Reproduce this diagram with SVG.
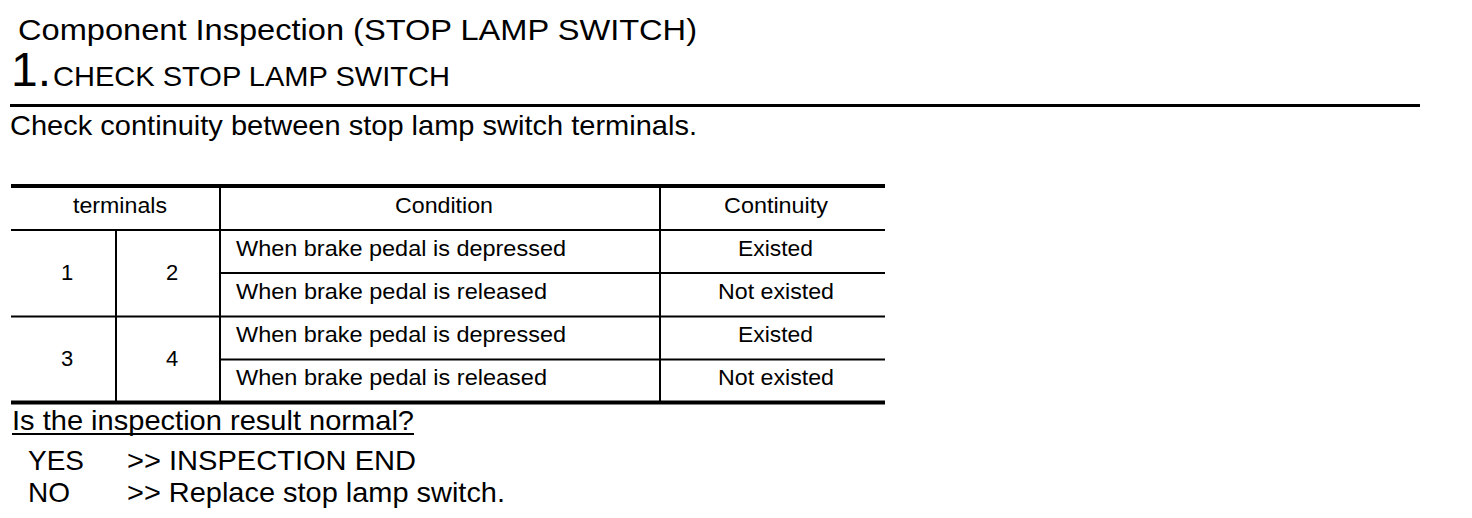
<svg xmlns="http://www.w3.org/2000/svg" width="1472" height="518" viewBox="0 0 1472 518">
<style>
text{font-family:"Liberation Sans",Arial,sans-serif;fill:#000}
.h{font-size:28px}
.ti{font-size:30px}
.big{font-size:48px}
.t{font-size:22px}
.b{font-size:28px}
.thick{stroke:#000;stroke-width:4}
.thin{stroke:#000;stroke-width:2}
</style>
<rect width="1472" height="518" fill="#fff"/>
<g id="header">
<text class="ti" x="18" y="40" textLength="679" lengthAdjust="spacingAndGlyphs">Component Inspection (STOP LAMP SWITCH)</text>
<text class="big" x="11" y="86">1.</text>
<text class="h" x="53" y="86" textLength="397" lengthAdjust="spacingAndGlyphs">CHECK STOP LAMP SWITCH</text>
<line x1="10" y1="105.5" x2="1420" y2="105.5" stroke="#000" stroke-width="3"/>
<text class="h" x="10" y="135" textLength="687" lengthAdjust="spacingAndGlyphs">Check continuity between stop lamp switch terminals.</text>
</g>
<g id="table">
<line class="thick" x1="11" y1="186" x2="885" y2="186"/>
<line class="thick" x1="11" y1="402.5" x2="885" y2="402.5"/>
<line class="thin" x1="11" y1="230" x2="885" y2="230"/>
<line class="thin" x1="11" y1="316.5" x2="885" y2="316.5"/>
<line class="thin" x1="220" y1="273" x2="885" y2="273"/>
<line class="thin" x1="220" y1="359.5" x2="885" y2="359.5"/>
<line class="thin" x1="220" y1="186" x2="220" y2="402"/>
<line class="thin" x1="660" y1="186" x2="660" y2="402"/>
<line class="thin" x1="116" y1="230" x2="116" y2="402"/>
<text class="t" x="73" y="213" textLength="94" lengthAdjust="spacingAndGlyphs">terminals</text>
<text class="t" x="395" y="213" textLength="98" lengthAdjust="spacingAndGlyphs">Condition</text>
<text class="t" x="724" y="213" textLength="104" lengthAdjust="spacingAndGlyphs">Continuity</text>
<text class="t" x="67" y="280" text-anchor="middle">1</text>
<text class="t" x="172" y="280" text-anchor="middle">2</text>
<text class="t" x="67" y="366" text-anchor="middle">3</text>
<text class="t" x="172" y="366" text-anchor="middle">4</text>
<text class="t" x="236" y="256" textLength="330" lengthAdjust="spacingAndGlyphs">When brake pedal is depressed</text>
<text class="t" x="236" y="299" textLength="311" lengthAdjust="spacingAndGlyphs">When brake pedal is released</text>
<text class="t" x="236" y="342" textLength="330" lengthAdjust="spacingAndGlyphs">When brake pedal is depressed</text>
<text class="t" x="236" y="385" textLength="311" lengthAdjust="spacingAndGlyphs">When brake pedal is released</text>
<text class="t" x="738" y="256" textLength="75" lengthAdjust="spacingAndGlyphs">Existed</text>
<text class="t" x="718" y="299" textLength="116" lengthAdjust="spacingAndGlyphs">Not existed</text>
<text class="t" x="738" y="342" textLength="75" lengthAdjust="spacingAndGlyphs">Existed</text>
<text class="t" x="718" y="385" textLength="116" lengthAdjust="spacingAndGlyphs">Not existed</text>
</g>
<g id="result">
<text class="b" x="12" y="430" textLength="402" lengthAdjust="spacingAndGlyphs">Is the inspection result normal?</text>
<line class="thin" x1="12" y1="434" x2="414" y2="434"/>
<text class="b" x="28" y="470" textLength="56" lengthAdjust="spacingAndGlyphs">YES</text>
<text class="b" x="127" y="470" textLength="289" lengthAdjust="spacingAndGlyphs">&gt;&gt; INSPECTION END</text>
<text class="b" x="28" y="502" textLength="42" lengthAdjust="spacingAndGlyphs">NO</text>
<text class="b" x="127" y="502" textLength="378" lengthAdjust="spacingAndGlyphs">&gt;&gt; Replace stop lamp switch.</text>
</g>
</svg>
